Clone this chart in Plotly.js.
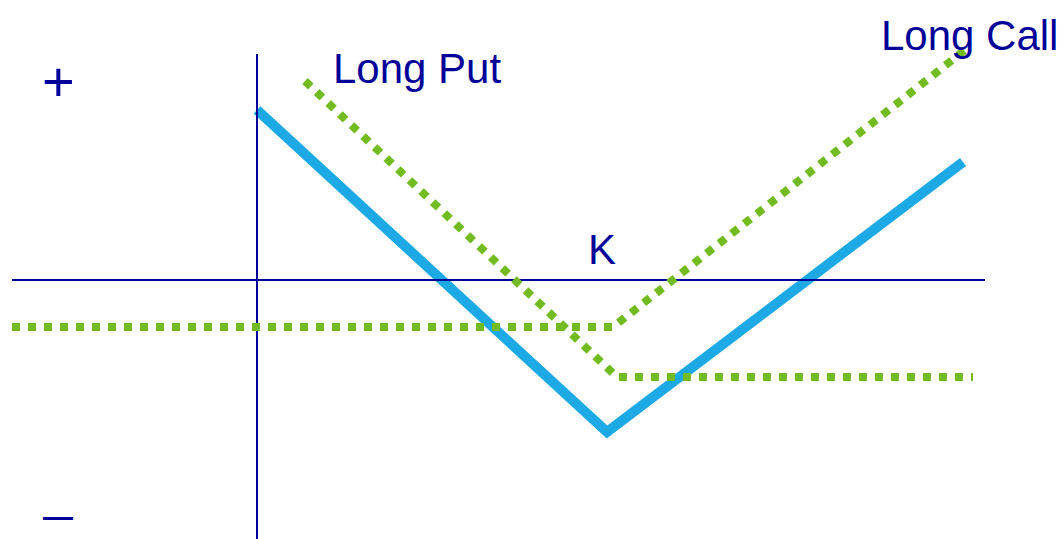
<!DOCTYPE html>
<html>
<head>
<meta charset="utf-8">
<script src="https://cdn.plot.ly/plotly-3.0.1.min.js"></script>
<style>html,body{margin:0;padding:0;background:#fff;}#chart{width:1064px;height:539px;}</style>
</head>
<body>
<div id="chart"></div>
<script>
// Straddle payoff diagram (units: price on x, profit on y; origin at axes crossing)
const straddleX = [0.0, 35.0, 70.6];
const straddleY = [17.0, -15.2, 11.8];
const longPutX = [4.8, 36.0, 71.6];
const longPutY = [19.9, -9.7, -9.7];
const longCallX = [-24.5, 35.6, 70.8];
const longCallY = [-4.7, -4.7, 23.0];
const labels = ["Long Put", "Long Call", "K", "+", "—"];

const navy = "#000099";
const traces = [
  {x: straddleX, y: straddleY, mode: "lines", line: {color: "#1DA9E6", width: 10}, hoverinfo: "skip"},
  {x: [-24.5, 72.8], y: [0, 0], mode: "lines", line: {color: navy, width: 2}, hoverinfo: "skip"},
  {x: [0, 0], y: [22.6, -26], mode: "lines", line: {color: navy, width: 2}, hoverinfo: "skip"},
  {x: longPutX, y: longPutY, mode: "lines", line: {color: "#72BC22", width: 8, dash: "dot"}, hoverinfo: "skip"},
  {x: longCallX, y: longCallY, mode: "lines", line: {color: "#72BC22", width: 8, dash: "dot"}, hoverinfo: "skip"}
];

const f = {family: "Liberation Sans, Arial, sans-serif", color: navy, size: 42};
const layout = {
  width: 1064, height: 539,
  margin: {l: 0, r: 0, t: 0, b: 0},
  paper_bgcolor: "#fff", plot_bgcolor: "#fff",
  showlegend: false,
  xaxis: {range: [-25.7, 80.7], visible: false, fixedrange: true},
  yaxis: {range: [-25.9, 28.0], visible: false, fixedrange: true},
  annotations: [
    {x: 16.0, y: 21.2, text: labels[0], showarrow: false, font: f, xanchor: "center", yanchor: "middle"},
    {x: 71.2, y: 24.5, text: labels[1], showarrow: false, font: f, xanchor: "center", yanchor: "middle"},
    {x: 34.5, y: 3.1, text: labels[2], showarrow: false, font: f, xanchor: "center", yanchor: "middle"},
    {x: -19.9, y: 19.9, text: labels[3], showarrow: false, font: Object.assign({}, f, {size: 56}), xanchor: "center", yanchor: "middle"},
    {x: -19.9, y: -23.6, text: "<b>" + labels[4] + "</b>", showarrow: false, borderpad: 0, font: Object.assign({}, f, {size: 30}), xanchor: "center", yanchor: "middle"}
  ]
};
Plotly.newPlot("chart", traces, layout, {staticPlot: true, displayModeBar: false});
</script>
</body>
</html>
